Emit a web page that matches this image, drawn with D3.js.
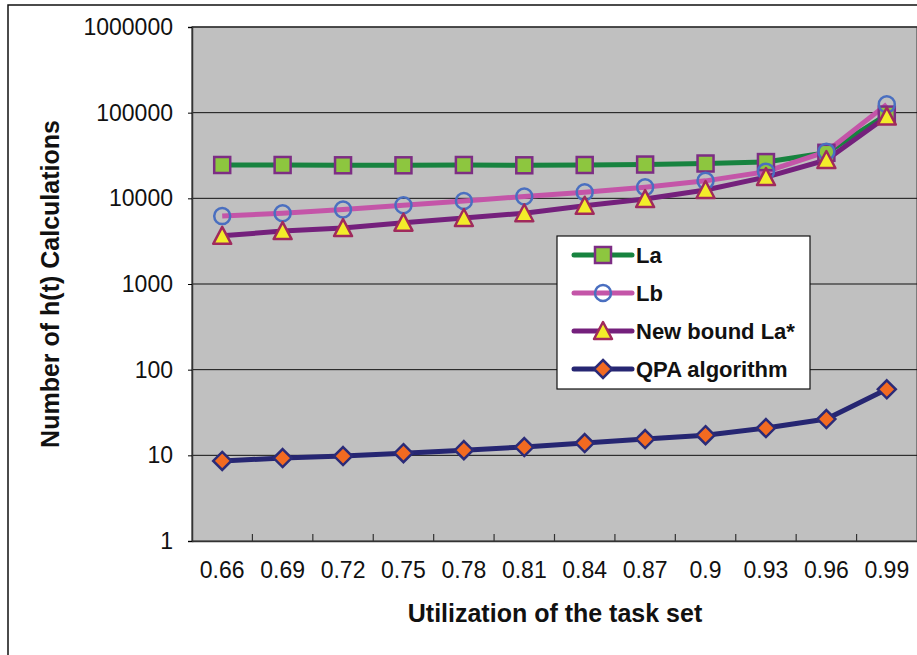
<!DOCTYPE html>
<html>
<head>
<meta charset="utf-8">
<script src="https://cdn.jsdelivr.net/npm/d3@7"></script>
<style>
    body { margin: 0; background: #fff; }
    svg { display: block; font-family: "Liberation Sans", Arial, sans-serif; }
</style>
</head>
<body>
<svg id="chart" width="917" height="655"></svg>
<script>
const utilization = ["0.66", "0.69", "0.72", "0.75", "0.78", "0.81", "0.84", "0.87", "0.9", "0.93", "0.96", "0.99"];
const laValues = [24500, 24500, 24300, 24300, 24500, 24300, 24500, 24800, 25500, 26500, 34000, 95000];
const lbValues = [6200, 6700, 7400, 8300, 9300, 10500, 11800, 13500, 16000, 20500, 35000, 125000];
const newBoundValues = [3650, 4150, 4500, 5200, 5900, 6700, 8200, 9800, 12500, 17700, 28000, 90000];
const qpaValues = [8.6, 9.3, 9.8, 10.6, 11.5, 12.5, 13.9, 15.5, 17.2, 20.8, 26.5, 59];
const yTicks = [1, 10, 100, 1000, 10000, 100000, 1000000];

const series = [
    { name: "La", values: laValues, line: "#17833f", marker: "square", fill: "#8dc63f", stroke: "#7d2d84" },
    { name: "Lb", values: lbValues, line: "#c455a8", marker: "circle", fill: "none", stroke: "#4a6fc0" },
    { name: "New bound La*", values: newBoundValues, line: "#74207c", marker: "triangle", fill: "#f3ec2a", stroke: "#a02a5c" },
    { name: "QPA algorithm", values: qpaValues, line: "#262672", marker: "diamond", fill: "#f26a21", stroke: "#2b2b78" }
];

const svg = d3.select("#chart");
const plotL = 192, plotT = 27, plotR = 917, plotB = 541;

// outer frame
svg.append("rect")
    .attr("x", 8).attr("y", 5).attr("width", 930).attr("height", 670)
    .attr("fill", "#fff").attr("stroke", "#111").attr("stroke-width", 1.5);

const x = d3.scaleBand().domain(utilization).range([plotL, plotR]);
const y = d3.scaleLog().domain([1, 1000000]).range([plotB, plotT]);

svg.append("rect")
    .attr("x", plotL).attr("y", plotT).attr("width", plotR - plotL).attr("height", plotB - plotT)
    .attr("fill", "#c0c0c0").attr("stroke", "#666").attr("stroke-width", 1.5);

// gridlines
svg.append("g").selectAll("line")
    .data(yTicks.slice(1))
    .join("line")
    .attr("x1", plotL).attr("x2", plotR)
    .attr("y1", d => y(d)).attr("y2", d => y(d))
    .attr("stroke", "#111").attr("stroke-width", 1);

// y axis
const yAxis = svg.append("g")
    .attr("transform", `translate(${plotL},0)`)
    .call(d3.axisLeft(y).tickValues(yTicks).tickFormat(d3.format("d")).tickSize(4).tickPadding(15));
yAxis.select(".domain").attr("stroke", "#333").attr("stroke-width", 1.5);
yAxis.selectAll("text").attr("font-size", 23).attr("fill", "#111");

// x axis: ticks between categories, pointing up
const xAxis = svg.append("g")
    .attr("transform", `translate(0,${plotB})`)
    .call(d3.axisBottom(x).tickSize(0).tickPadding(21));
xAxis.select(".domain").attr("stroke", "#333").attr("stroke-width", 1.5);
xAxis.selectAll("text").attr("font-size", 23).attr("fill", "#111");
xAxis.selectAll("line.sep")
    .data(utilization.slice(1))
    .join("line")
    .attr("class", "sep")
    .attr("x1", d => x(d)).attr("x2", d => x(d))
    .attr("y1", 0).attr("y2", -7)
    .attr("stroke", "#333").attr("stroke-width", 1.2);

// titles
svg.append("text")
    .attr("x", 555).attr("y", 622)
    .attr("text-anchor", "middle")
    .attr("font-size", 25).attr("font-weight", "bold").attr("fill", "#111")
    .text("Utilization of the task set");

svg.append("text")
    .attr("transform", "translate(59,284) rotate(-90)")
    .attr("text-anchor", "middle")
    .attr("font-size", 25).attr("font-weight", "bold").attr("fill", "#111")
    .text("Number of h(t) Calculations");

function drawMarker(g, kind, fill, stroke) {
    if (kind == "square") {
        g.append("rect").attr("x", -8).attr("y", -8).attr("width", 16).attr("height", 16)
            .attr("fill", fill).attr("stroke", stroke).attr("stroke-width", 2.5);
    } else if (kind == "circle") {
        g.append("circle").attr("r", 8)
            .attr("fill", fill).attr("stroke", stroke).attr("stroke-width", 2.5);
    } else if (kind == "triangle") {
        g.append("path").attr("d", "M0,-9L9,8L-9,8Z")
            .attr("fill", fill).attr("stroke", stroke).attr("stroke-width", 2.5).attr("stroke-linejoin", "round");
    } else if (kind == "diamond") {
        g.append("path").attr("d", "M0,-9L9,0L0,9L-9,0Z")
            .attr("fill", fill).attr("stroke", stroke).attr("stroke-width", 2.5);
    }
}

const cx = d => x(d) + x.bandwidth() / 2;
const line = d3.line().x((d, i) => cx(utilization[i])).y(d => y(d));

for (const s of series) {
    svg.append("path")
        .attr("d", line(s.values))
        .attr("fill", "none").attr("stroke", s.line).attr("stroke-width", 5).attr("stroke-linejoin", "round");
}
for (const s of series) {
    s.values.forEach((v, i) => {
        const g = svg.append("g").attr("transform", `translate(${cx(utilization[i])},${y(v)})`);
        drawMarker(g, s.marker, s.fill, s.stroke);
    });
}

// legend
const legend = svg.append("g").attr("transform", "translate(557,236)");
legend.append("rect")
    .attr("width", 253).attr("height", 153)
    .attr("fill", "#fff").attr("stroke", "#111").attr("stroke-width", 1.2);
series.forEach((s, i) => {
    const ly = 19 + i * 38;
    legend.append("line")
        .attr("x1", 17).attr("x2", 75).attr("y1", ly).attr("y2", ly)
        .attr("stroke", s.line).attr("stroke-width", 5).attr("stroke-linecap", "round");
    drawMarker(legend.append("g").attr("transform", `translate(46,${ly})`), s.marker, s.fill, s.stroke);
    legend.append("text")
        .attr("x", 79).attr("y", ly + 8)
        .attr("font-size", 22).attr("font-weight", "bold").attr("fill", "#111")
        .text(s.name);
});
</script>
</body>
</html>
